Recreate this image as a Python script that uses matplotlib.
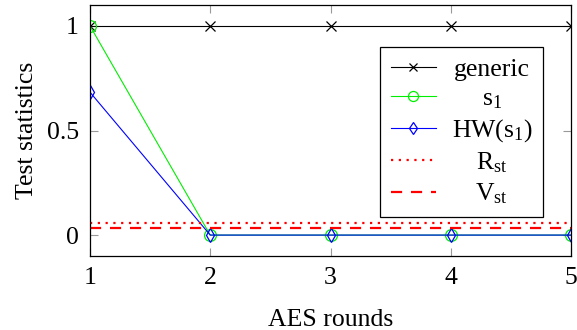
import numpy as np
import matplotlib
matplotlib.use('Agg')
import matplotlib.pyplot as plt

plt.rcParams['font.family'] = ['Liberation Serif', 'DejaVu Serif']
plt.rcParams['mathtext.fontset'] = 'stix'

rounds = [1, 2, 3, 4, 5]
generic = [1, 1, 1, 1, 1]
s1 = [1, 0, 0, 0, 0]
hw_s1 = [0.683, 0, 0, 0, 0]
r_st = 0.058
v_st = 0.035

fs = 18.5
fig = plt.figure(figsize=(5.77, 3.30), dpi=100)
ax = fig.add_axes([90/577, (330-256)/330, (571-90)/577, (256-5)/330])

ax.plot(rounds, generic, color='black', lw=0.8, marker='x', ms=7, mew=0.9, label='generic')
ax.plot(rounds, s1, color='#00ee00', lw=0.8, marker='o', ms=8.5, mfc='none', mew=0.9, label=r'$\mathregular{s_1}$')
ax.plot(rounds, hw_s1, color='#0000ff', lw=0.8, marker='d', ms=7.5, mfc='none', mew=0.9, label=r'$\mathregular{HW(s_1)}$')
ax.axhline(r_st, color='red', lw=1.6, ls=(0, (1, 2.5)), label=r'$\mathregular{R_{st}}$')
ax.axhline(v_st, color='red', lw=1.6, ls=(0, (5, 4)), label=r'$\mathregular{V_{st}}$')

ax.set_xlim(1, 5)
ax.set_ylim(-0.1, 1.1)
ax.set_xticks(rounds)
ax.set_yticks([0, 0.5, 1])
ax.set_yticklabels(['0', '0.5', '1'])
ax.tick_params(direction='in', length=6, color='#999999', width=0.8,
               labelsize=fs, top=True, right=True, pad=8)
for sp in ax.spines.values():
    sp.set_linewidth(0.9)
ax.set_xlabel('AES rounds', fontsize=fs, labelpad=14)
ax.set_ylabel('Test statistics', fontsize=fs, labelpad=6)

leg = ax.legend(loc='upper right', bbox_to_anchor=((543-90)/(571-90), (256-47)/251),
                fontsize=fs, frameon=True, fancybox=False, edgecolor='black',
                framealpha=1, handlelength=1.75, handletextpad=0.4,
                labelspacing=0.25, borderpad=0.42, borderaxespad=0,
                markerscale=0.85)
leg.get_frame().set_linewidth(0.9)

# centre the legend texts like pgfplots does
fig.canvas.draw()
renderer = fig.canvas.get_renderer()
texts = leg.get_texts()
widths = [t.get_window_extent(renderer).width * 72 / fig.dpi for t in texts]
maxw = max(widths)
rows = leg._legend_handle_box.get_children()[0].get_children()
for row, w in zip(rows, widths):
    row.sep = row.sep + (maxw - w) / 2 + 4

fig.savefig('out.png', dpi=100)
